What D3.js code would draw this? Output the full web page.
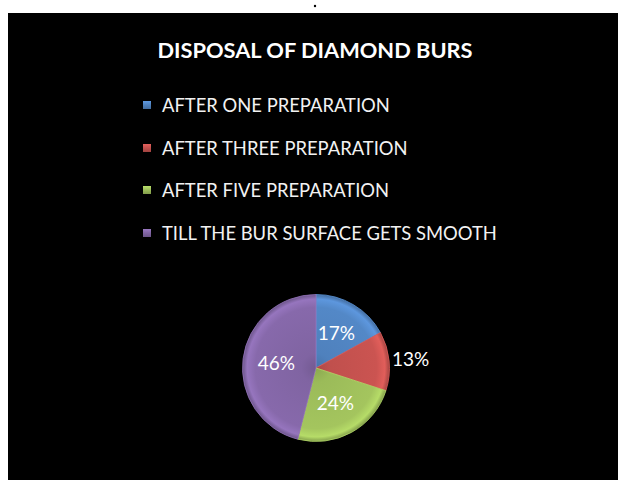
<!DOCTYPE html>
<html><head><meta charset="utf-8">
<script src="https://cdn.jsdelivr.net/npm/d3@7"></script>
<style>html,body{margin:0;padding:0;background:#fff;}svg{display:block;}</style>
</head><body>
<script>
const categories = ["AFTER ONE PREPARATION","AFTER THREE PREPARATION","AFTER FIVE PREPARATION","TILL THE BUR SURFACE GETS SMOOTH"];
const values = [17, 13, 24, 46];
const labels = ["17%","13%","24%","46%"];
const colors = ["#4F81BD","#C0504D","#9BBB59","#8064A2"];
const title = "DISPOSAL OF DIAMOND BURS";

const W = 618, H = 480;
const svg = d3.select("body").append("svg").attr("width", W).attr("height", H);
const font = "Lato, 'Open Sans', sans-serif";

svg.append("rect").attr("x", 8).attr("y", 13).attr("width", W - 8).attr("height", H - 13).attr("fill", "#000");
svg.append("circle").attr("cx", 315).attr("cy", 6).attr("r", 1.2).attr("fill", "#000");

svg.append("text").attr("x", 315).attr("y", 57.5).attr("text-anchor", "middle")
  .attr("fill", "#fff").attr("font-family", font).attr("font-weight", "bold")
  .attr("font-size", 21.8).text(title);

const defs = svg.append("defs");
colors.forEach((c, i) => {
  const base = d3.color(c);
  const g = defs.append("radialGradient").attr("id", "g" + i)
    .attr("gradientUnits", "userSpaceOnUse").attr("cx", 0).attr("cy", 0).attr("r", 74);
  g.append("stop").attr("offset", "0%").attr("stop-color", base.darker(0.3));
  g.append("stop").attr("offset", "20%").attr("stop-color", base);
  g.append("stop").attr("offset", "82%").attr("stop-color", base.brighter(0.15));
  g.append("stop").attr("offset", "93%").attr("stop-color", base.brighter(0.45));
  g.append("stop").attr("offset", "100%").attr("stop-color", base.darker(0.6));
  const lg = defs.append("linearGradient").attr("id", "l" + i)
    .attr("x1", 0).attr("y1", 0).attr("x2", 0).attr("y2", 1);
  lg.append("stop").attr("offset", "0%").attr("stop-color", base.brighter(0.5));
  lg.append("stop").attr("offset", "50%").attr("stop-color", base);
  lg.append("stop").attr("offset", "100%").attr("stop-color", base.darker(0.5));
});

// Legend
const legend = svg.append("g");
const rowY = [105, 148, 190, 233];
categories.forEach((cat, i) => {
  legend.append("rect").attr("x", 143).attr("y", rowY[i] - 4).attr("width", 8).attr("height", 8)
    .attr("fill", `url(#l${i})`);
  legend.append("text").attr("x", 162).attr("y", rowY[i]).attr("dy", "0.36em")
    .attr("fill", "#f2f2f2").attr("font-family", font).attr("font-size", 18.4)
    .text(cat);
});

// Pie
const cx = 316, cy = 368, R = 73.5;
const pie = d3.pie().sort(null).value(d => d)(values);
const arc = d3.arc().innerRadius(0).outerRadius(R);
const g = svg.append("g").attr("transform", `translate(${cx},${cy})`);
g.selectAll("path.s").data(pie).join("path").attr("class", "s")
  .attr("d", arc).attr("fill", (d, i) => `url(#g${i})`)
  .attr("stroke", (d, i) => d3.color(colors[i]).brighter(0.4)).attr("stroke-width", 0.8)
  .attr("stroke-linejoin", "round");

const inArc = d3.arc().innerRadius(40).outerRadius(40);
const outArc = d3.arc().innerRadius(95).outerRadius(95);
g.selectAll("text.l").data(pie).join("text").attr("class", "l")
  .attr("transform", (d, i) => `translate(${(i === 1 ? outArc : inArc).centroid(d)})`)
  .attr("text-anchor", "middle").attr("dy", "0.36em")
  .attr("fill", "#fff").attr("font-family", font).attr("font-size", 19)
  .text((d, i) => labels[i]);
</script>
</body></html>
